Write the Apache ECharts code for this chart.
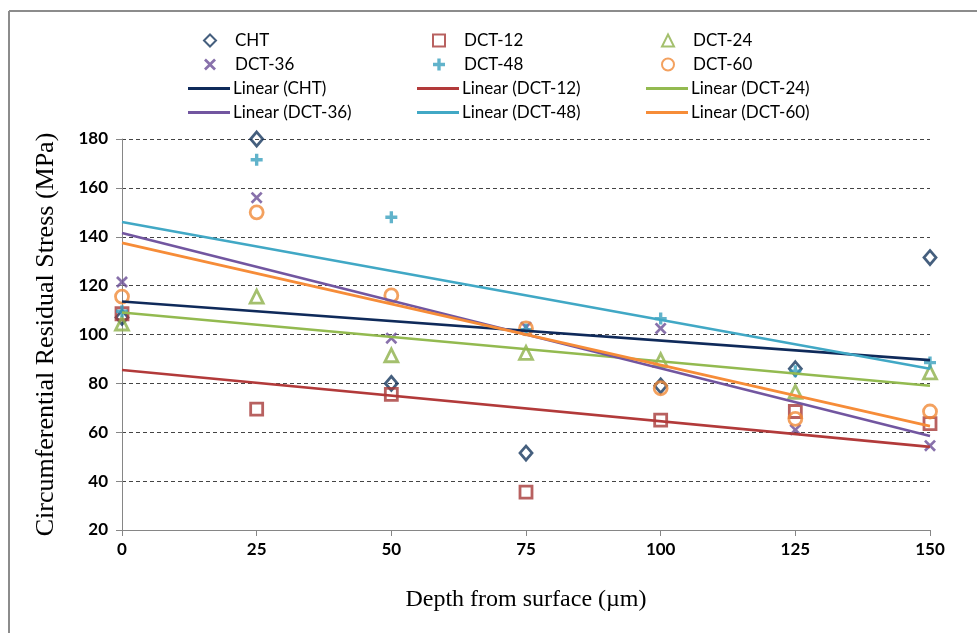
<!DOCTYPE html>
<html>
<head>
<meta charset="utf-8">
<script src="https://cdn.jsdelivr.net/npm/echarts@6/dist/echarts.min.js"></script>
<style>
html,body{margin:0;padding:0;background:#fff;}
#chart{width:977px;height:633px;}
</style>
</head>
<body>
<div id="chart"></div>
<script>
// ---- data ----
var depths = [0, 25, 50, 75, 100, 125, 150];
var cht   = [107, 180, 80, 51.5, 79, 86, 131.5];
var dct12 = [108.5, 69.5, 75.5, 35.5, 65, 68.5, 63.5];
var dct24 = [104.5, 115.5, 91.5, 92.5, 89.5, 76.5, 84.5];
var dct36 = [121.5, 156, 98.5, 103, 102.5, 61, 54.5];
var dct48 = [109.5, 171.5, 148, 102, 106.5, 85, 88.5];
var dct60 = [115.5, 150, 116, 102.5, 78, 65.5, 68.5];
// trend line values at depth 0 and depth 150
var trendX = [0, 150];
var trendCHT   = [113.5, 89.5];
var trend12    = [85.5, 54];
var trend24    = [109, 79];
var trend36    = [141.5, 58.5];
var trend48    = [146, 86];
var trend60    = [137.5, 62.5];
var yTicks = [20, 40, 60, 80, 100, 120, 140, 160, 180];
var xTicks = [0, 25, 50, 75, 100, 125, 150];

function pairs(xs, ys){ return xs.map(function(x,i){ return [x, ys[i]]; }); }

var plusPath = 'path://M3.6,0H6.4V3.6H10V6.4H6.4V10H3.6V6.4H0V3.6H3.6Z';
var xPath = 'path://M0,1.6L1.6,0L5,3.4L8.4,0L10,1.6L6.6,5L10,8.4L8.4,10L5,6.6L1.6,10L0,8.4L3.4,5Z';

var cols = {
  cht:  {m:'#17375E', l:'#0F2A5A'},
  d12:  {m:'#A63A38', l:'#B23A3A'},
  d24:  {m:'#8DB04A', l:'#93BA50'},
  d36:  {m:'#6A4E96', l:'#7256A0'},
  d48:  {m:'#3AA0BE', l:'#41A8C5'},
  d60:  {m:'#F08A37', l:'#F68C38'}
};

function hollow(name, ys, sym, c, size){
  return {
    name: name, type: 'scatter', data: pairs(depths, ys),
    symbol: sym, symbolSize: size,
    itemStyle: {color: 'rgba(255,255,255,0)', borderColor: c, borderWidth: 2.8},
    z: 2
  };
}
function solid(name, ys, sym, c, size){
  return {
    name: name, type: 'scatter', data: pairs(depths, ys),
    symbol: sym, symbolSize: size,
    itemStyle: {color: c, borderWidth: 0},
    z: 2
  };
}
function trend(name, ys, c){
  return {
    name: name, type: 'line', data: pairs(trendX, ys),
    symbol: 'none', showSymbol: false,
    lineStyle: {color: c, width: 2.6},
    itemStyle: {color: c},
    z: 3
  };
}

function markerLegend(left, items){
  return {
    orient: 'vertical', left: left + 15, top: 27,
    itemWidth: 12, itemHeight: 12, itemGap: 7,
    symbolKeepAspect: true,
    textStyle: {fontFamily: 'Lato', fontSize: 17, color: '#000', lineHeight: 17, padding: [0, 0, 0, 14]},
    data: items, selectedMode: false
  };
}
function lineLegend(left, names){
  return {
    orient: 'vertical', left: left, top: 75,
    itemWidth: 42, itemHeight: 3, itemGap: 7,
    icon: 'rect',
    itemStyle: {borderWidth: 0},
    textStyle: {fontFamily: 'Lato', fontSize: 17, color: '#000', lineHeight: 17, padding: [0, 0, 0, -2]},
    data: names, selectedMode: false
  };
}

var option = {
  animation: false,
  backgroundColor: '#fff',
  legend: [
    markerLegend(183, [{name: 'CHT', icon: 'diamond'}, {name: 'DCT-36', icon: xPath}]),
    markerLegend(412, [{name: 'DCT-12', icon: 'rect'}, {name: 'DCT-48', icon: plusPath}]),
    markerLegend(641, [{name: 'DCT-24', icon: 'triangle'}, {name: 'DCT-60', icon: 'circle'}]),
    lineLegend(183, ['Linear (CHT)', 'Linear (DCT-36)']),
    lineLegend(412, ['Linear (DCT-12)', 'Linear (DCT-48)']),
    lineLegend(641, ['Linear (DCT-24)', 'Linear (DCT-60)'])
  ],
  grid: {left: 122, right: 47, top: 139, bottom: 103},
  xAxis: {
    type: 'value', min: xTicks[0], max: xTicks[xTicks.length-1], interval: 25,
    name: 'Depth from surface (\u00b5m)', nameLocation: 'middle', nameGap: 58,
    nameTextStyle: {fontFamily: 'Liberation Serif', fontSize: 24, color: '#000'},
    axisLine: {show: true, onZero: false, lineStyle: {color: '#868686', width: 1}},
    axisTick: {show: true, length: 6, lineStyle: {color: '#868686'}},
    axisLabel: {fontFamily: 'Lato', fontWeight: 'bold', fontSize: 17, color: '#000', margin: 11},
    splitLine: {show: false}
  },
  yAxis: {
    type: 'value', min: yTicks[0], max: yTicks[yTicks.length-1], interval: 20,
    name: 'Circumferential Residual Stress (MPa)', nameLocation: 'middle', nameGap: 63,
    nameTextStyle: {fontFamily: 'Liberation Serif', fontSize: 26, color: '#000'},
    axisLine: {show: true, lineStyle: {color: '#868686', width: 1}},
    axisTick: {show: true, length: 6, lineStyle: {color: '#868686'}},
    axisLabel: {fontFamily: 'Lato', fontWeight: 'bold', fontSize: 17, color: '#000', margin: 14},
    splitLine: {show: true, lineStyle: {color: '#444', type: [4, 3], width: 1}}
  },
  graphic: [
    {type: 'line', shape: {x1: 9, y1: 11, x2: 977, y2: 11}, style: {stroke: '#8c8c8c', lineWidth: 2}},
    {type: 'line', shape: {x1: 9, y1: 11, x2: 9, y2: 633}, style: {stroke: '#8c8c8c', lineWidth: 2}}
  ],
  series: [
    hollow('CHT', cht, 'diamond', cols.cht.m, [12, 14]),
    hollow('DCT-12', dct12, 'rect', cols.d12.m, 12),
    hollow('DCT-24', dct24, 'triangle', cols.d24.m, 13),
    solid('DCT-36', dct36, xPath, cols.d36.m, 12),
    solid('DCT-48', dct48, plusPath, cols.d48.m, 12),
    hollow('DCT-60', dct60, 'circle', cols.d60.m, 13),
    trend('Linear (CHT)', trendCHT, cols.cht.l),
    trend('Linear (DCT-12)', trend12, cols.d12.l),
    trend('Linear (DCT-24)', trend24, cols.d24.l),
    trend('Linear (DCT-36)', trend36, cols.d36.l),
    trend('Linear (DCT-48)', trend48, cols.d48.l),
    trend('Linear (DCT-60)', trend60, cols.d60.l)
  ]
};

var chart = echarts.init(document.getElementById('chart'), null, {renderer: 'canvas'});
chart.setOption(option);
</script>
</body>
</html>
